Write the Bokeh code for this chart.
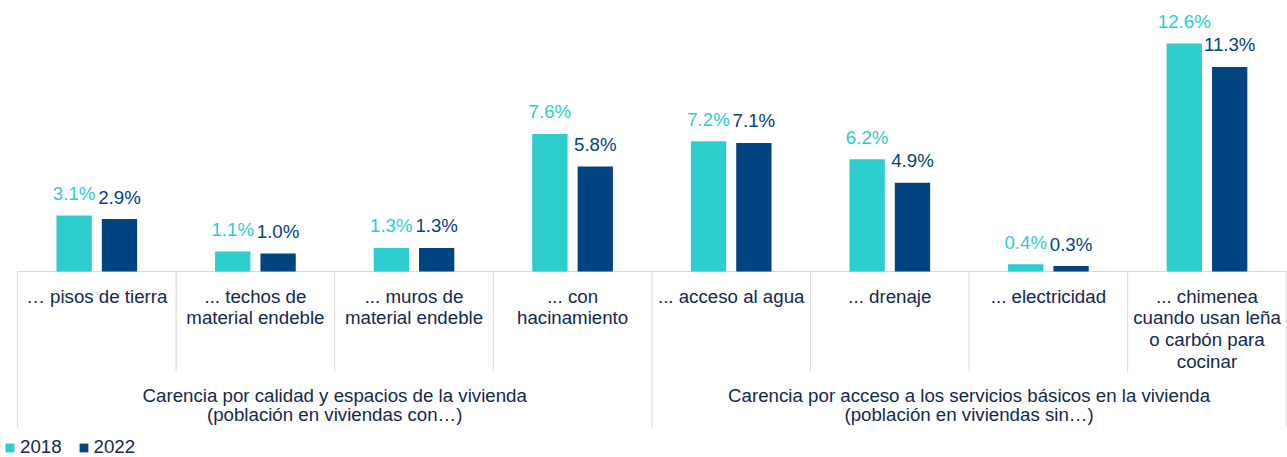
from bokeh.plotting import figure
from bokeh.models import Range1d, ColumnDataSource, Legend, LegendItem
from bokeh.core.properties import value
from bokeh.embed import file_html
from bokeh.resources import INLINE

# ---- data ----
categories = [
    "… pisos de tierra",
    "... techos de\nmaterial endeble",
    "... muros de\nmaterial endeble",
    "... con\nhacinamiento",
    "... acceso al agua",
    "... drenaje",
    "... electricidad",
    "... chimenea\ncuando usan leña\no carbón para\ncocinar",
]
groups = [
    "Carencia por calidad y espacios de la vivienda\n(población en viviendas con…)",
    "Carencia por acceso a los servicios básicos en la vivienda\n(población en viviendas sin…)",
]
group_sizes = [4, 4]
years = ["2018", "2022"]
values_2018 = [3.1, 1.1, 1.3, 7.6, 7.2, 6.2, 0.4, 12.6]
values_2022 = [2.9, 1.0, 1.3, 5.8, 7.1, 4.9, 0.3, 11.3]

# ---- style ----
C18 = "#2DCCCD"
C22 = "#004481"
TXT = "#14284B"
SEP = "#D9D9D9"
FONT_NAME = "Liberation Sans"
FONT = value(FONT_NAME)
FS = "18.7px"

W, H = 1287, 457
PX = 18.1            # pixels per percentage point
BASE_PX = 271        # baseline distance from frame top (px)
CAT_PX = 158.6       # pixels per category
LEFT_PX = 17         # first category boundary from frame left

n = len(categories)
x0 = -LEFT_PX / CAT_PX
x1 = x0 + W / CAT_PX
y1 = BASE_PX / PX
y0 = y1 - H / PX

p = figure(width=W, height=H, output_backend="svg", toolbar_location=None,
           x_range=Range1d(x0, x1), y_range=Range1d(y0, y1),
           x_axis_location=None, y_axis_location=None,
           min_border=0, min_border_left=0, min_border_right=0,
           min_border_top=0, min_border_bottom=0)
p.outline_line_color = None
p.xgrid.visible = False
p.ygrid.visible = False
p.background_fill_color = "white"
p.border_fill_color = "white"

centers = [i + 0.5 for i in range(n)]
off = 0.143
bw = 0.2226

src18 = ColumnDataSource(dict(x=[c - off for c in centers], top=values_2018,
                              lab=[f"{v:.1f}%" for v in values_2018]))
src22 = ColumnDataSource(dict(x=[c + off for c in centers], top=values_2022,
                              lab=[f"{v:.1f}%" for v in values_2022]))

# baseline
p.segment(x0=[0], y0=[0], x1=[n], y1=[0], line_color=SEP, line_width=1)

# separators
short_len = 100 / PX
long_len = 156 / PX
bounds = list(range(n + 1))
group_bounds = [0]
for g in group_sizes:
    group_bounds.append(group_bounds[-1] + g)
sx, sy1 = [], []
for b in bounds:
    sx.append(b)
    sy1.append(-long_len if b in group_bounds else -short_len)
p.segment(x0=sx, y0=[0] * len(sx), x1=sx, y1=sy1, line_color=SEP, line_width=1)

r18 = p.vbar(x="x", top="top", width=bw, bottom=0, source=src18,
             fill_color=C18, line_color=None)
r22 = p.vbar(x="x", top="top", width=bw, bottom=0, source=src22,
             fill_color=C22, line_color=None)

p.text(x="x", y="top", text="lab", source=src18, text_align="center",
       text_baseline="alphabetic", y_offset=-22, text_color=C18,
       text_font=FONT, text_font_size=FS)
p.text(x="x", y="top", text="lab", source=src22, text_align="center",
       text_baseline="alphabetic", y_offset=-22, text_color=C22,
       text_font=FONT, text_font_size=FS)

# category labels
p.text(x=centers, y=[0] * n, text=categories, text_align="center",
       text_baseline="top", y_offset=14, text_color=TXT, text_font=FONT,
       text_font_size=FS, text_line_height=1.04)

# group labels
gx = [(group_bounds[i] + group_bounds[i + 1]) / 2 for i in range(len(groups))]
p.text(x=gx, y=[0] * len(groups), text=groups, text_align="center",
       text_baseline="top", y_offset=113, text_color=TXT, text_font=FONT,
       text_font_size=FS, text_line_height=0.95)

legend = Legend(items=[LegendItem(label=years[0], renderers=[r18]),
                       LegendItem(label=years[1], renderers=[r22])],
                orientation="horizontal", location=(4, -1),
                padding=0, margin=0, spacing=16, label_standoff=5,
                glyph_width=11, glyph_height=11, label_height=17, label_width=10,
                border_line_color=None, background_fill_alpha=0,
                label_text_font=FONT_NAME, label_text_font_size=FS,
                label_text_color=TXT)
p.add_layout(legend)

open("out.html", "w").write(file_html(p, INLINE))
